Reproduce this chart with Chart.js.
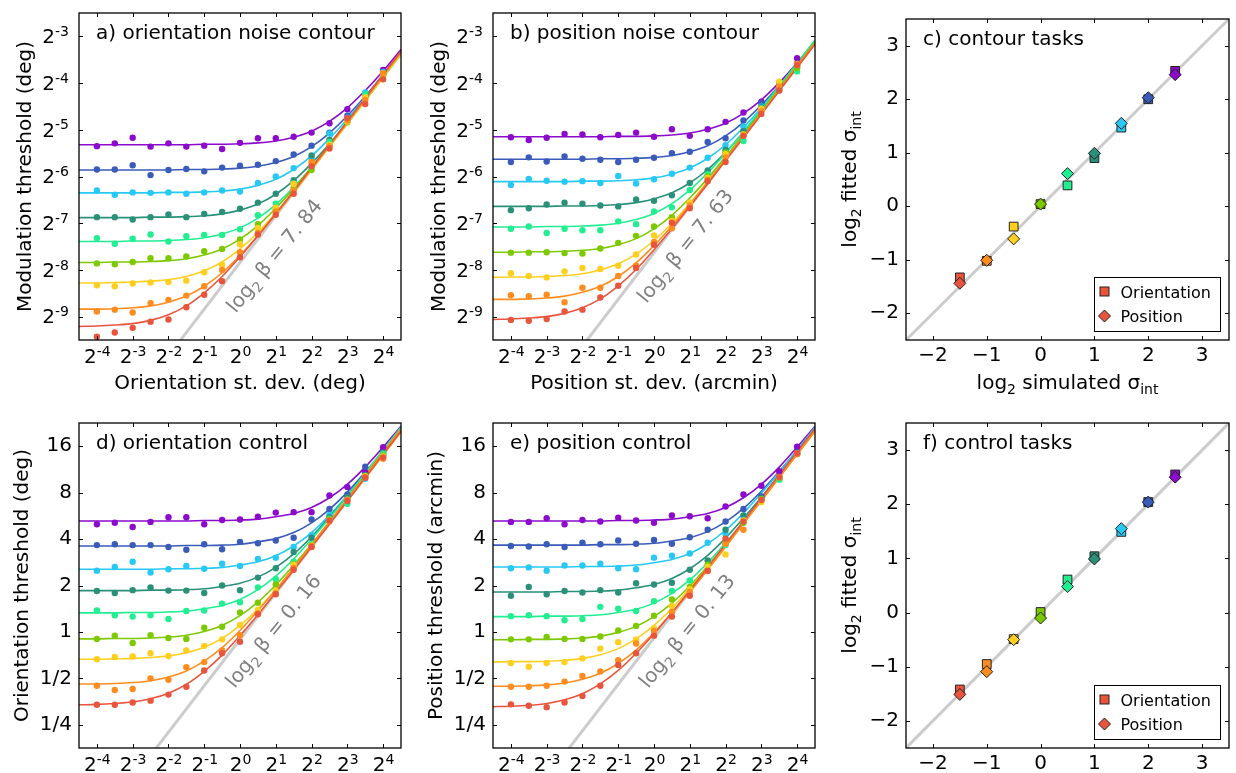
<!DOCTYPE html>
<html><head><meta charset="utf-8">
<script src="https://cdn.jsdelivr.net/npm/chart.js@4.4.1/dist/chart.umd.min.js"></script>
<style>
html,body{margin:0;padding:0;background:#fff;}
#wrap{position:relative;width:1236px;height:773px;overflow:hidden;background:#fff;}
canvas{position:absolute;}
</style></head><body><div id="wrap">
<canvas id="ca" width="412" height="400" style="left:0px;top:0px"></canvas>
<canvas id="cb" width="414" height="400" style="left:412px;top:0px"></canvas>
<canvas id="cc" width="410" height="400" style="left:826px;top:0px"></canvas>
<canvas id="cd" width="412" height="373" style="left:0px;top:400px"></canvas>
<canvas id="ce" width="414" height="373" style="left:412px;top:400px"></canvas>
<canvas id="cf" width="410" height="373" style="left:826px;top:400px"></canvas>
</div>
<script>
// ---------- data ----------
const sigmaSim = [-1.5, -1, -0.5, 0, 0.5, 1, 1.5, 2, 2.5];           // log2 simulated sigma_int (red -> purple)
const palette = ['#e8553c','#ff8c1e','#ffcf1f','#7dc900','#20ee90','#2b9079','#28c8f5','#3a5bb9','#8b0acb'];
const noiseX = [-4,-3.5,-3,-2.5,-2,-1.5,-1,-0.5,0,0.5,1,1.5,2,2.5,3,3.5,4];           // log2 external noise
const fitX = [-4.5,-4,-3.5,-3,-2.5,-2,-1.5,-1,-0.5,0,0.5,1,1.5,2,2.5,3,3.5,4,4.5];

const log2TickVals = [-4,-3,-2,-1,0,1,2,3,4];
const log2TickExp = ['-4','-3','-2','-1','0','1','2','3','4'];      // labels 2^n
const modTickVals = [-9,-8,-7,-6,-5,-4,-3];
const modTickExp = ['-9','-8','-7','-6','-5','-4','-3'];            // labels 2^n
const ctrlTickVals = [-2,-1,0,1,2,3,4];
const ctrlTickLabels = ['1/4','1/2','1','2','4','8','16'];
const sigmaTickVals = [-2,-1,0,1,2,3];
const sigmaTickLabels = ['−2','−1','0','1','2','3'];

// a) orientation noise contour : measured thresholds (log2)
const dotsA = [
 [-9.43,-9.34,-9.24,-9.11,-9.06,-8.80,-8.53,-8.24,-7.73,-7.24,-6.82,-6.37,-5.78,-5.40,-4.75,-4.45,-3.92],
 [-8.89,-8.85,-8.91,-8.71,-8.64,-8.55,-8.35,-8.00,-7.62,-7.21,-6.75,-6.30,-5.69,-5.35,-4.80,-4.36,-3.79],
 [-8.33,-8.35,-8.29,-8.27,-8.26,-8.23,-8.05,-7.89,-7.45,-7.10,-6.67,-6.16,-5.70,-5.32,-4.82,-4.30,-3.80],
 [-7.86,-7.88,-7.83,-7.75,-7.75,-7.71,-7.60,-7.55,-7.35,-7.02,-6.70,-6.25,-5.86,-5.34,-4.84,-4.32,-3.85],
 [-7.32,-7.44,-7.33,-7.24,-7.39,-7.28,-7.25,-7.25,-7.13,-6.83,-6.58,-6.15,-5.80,-5.26,-4.80,-4.24,-3.82],
 [-6.87,-6.87,-6.92,-6.87,-6.81,-6.87,-6.80,-6.76,-6.69,-6.56,-6.37,-6.08,-5.55,-5.22,-4.78,-4.28,-3.80],
 [-6.30,-6.39,-6.34,-6.35,-6.34,-6.37,-6.34,-6.30,-6.32,-6.14,-6.00,-5.82,-5.60,-5.08,-4.74,-4.20,-3.76],
 [-5.85,-5.85,-5.76,-5.97,-5.86,-5.84,-5.89,-5.81,-5.77,-5.75,-5.67,-5.53,-5.34,-5.06,-4.70,-4.27,-3.80],
 [-5.35,-5.29,-5.17,-5.36,-5.29,-5.36,-5.34,-5.41,-5.28,-5.18,-5.18,-5.15,-5.06,-4.86,-4.56,-4.22,-3.72]
];
const fitsA = [
 [-9.21,-9.20,-9.18,-9.15,-9.08,-8.96,-8.77,-8.49,-8.14,-7.72,-7.27,-6.79,-6.31,-5.81,-5.32,-4.82,-4.32,-3.82,-3.32],
 [-8.84,-8.84,-8.83,-8.81,-8.77,-8.69,-8.56,-8.35,-8.06,-7.69,-7.27,-6.81,-6.33,-5.84,-5.34,-4.85,-4.35,-3.85,-3.35],
 [-8.28,-8.28,-8.27,-8.26,-8.24,-8.21,-8.14,-8.02,-7.83,-7.55,-7.20,-6.78,-6.33,-5.85,-5.37,-4.87,-4.38,-3.88,-3.38],
 [-7.84,-7.84,-7.83,-7.83,-7.82,-7.80,-7.76,-7.68,-7.55,-7.34,-7.05,-6.68,-6.26,-5.80,-5.32,-4.83,-4.33,-3.84,-3.34],
 [-7.39,-7.39,-7.39,-7.38,-7.38,-7.37,-7.35,-7.31,-7.23,-7.10,-6.89,-6.60,-6.23,-5.81,-5.35,-4.87,-4.38,-3.88,-3.39],
 [-6.88,-6.88,-6.88,-6.88,-6.87,-6.87,-6.86,-6.84,-6.80,-6.72,-6.59,-6.38,-6.09,-5.72,-5.30,-4.84,-4.36,-3.87,-3.37],
 [-6.35,-6.35,-6.35,-6.35,-6.35,-6.34,-6.34,-6.33,-6.31,-6.27,-6.19,-6.06,-5.85,-5.56,-5.19,-4.77,-4.31,-3.83,-3.34],
 [-5.86,-5.86,-5.86,-5.86,-5.86,-5.86,-5.85,-5.85,-5.84,-5.82,-5.78,-5.70,-5.57,-5.36,-5.07,-4.70,-4.28,-3.82,-3.34],
 [-5.32,-5.32,-5.32,-5.32,-5.32,-5.32,-5.32,-5.31,-5.31,-5.30,-5.28,-5.24,-5.16,-5.03,-4.82,-4.53,-4.16,-3.74,-3.28]
];
const refA = {x: [-2, 4.5], y: [-9.84, -3.34]};

// b) position noise contour
const dotsB = [
 [-9.07,-9.09,-9.05,-8.89,-8.85,-8.59,-8.34,-7.96,-7.46,-6.99,-6.68,-6.10,-5.69,-5.13,-4.66,-4.16,-3.62],
 [-8.54,-8.56,-8.53,-8.69,-8.38,-8.38,-8.13,-7.91,-7.40,-7.11,-6.62,-6.07,-5.59,-5.12,-4.60,-4.07,-3.59],
 [-8.07,-8.13,-8.16,-8.03,-7.96,-7.98,-7.91,-7.67,-7.26,-6.95,-6.56,-6.03,-5.52,-5.10,-4.55,-3.97,-3.60],
 [-7.63,-7.63,-7.62,-7.64,-7.65,-7.54,-7.42,-7.27,-7.07,-6.87,-6.56,-6.00,-5.49,-5.10,-4.58,-4.12,-3.68],
 [-7.12,-7.07,-7.21,-7.12,-7.15,-7.15,-6.96,-7.02,-6.75,-6.66,-6.29,-5.95,-5.49,-5.24,-4.55,-4.16,-3.75],
 [-6.72,-6.68,-6.60,-6.56,-6.58,-6.62,-6.64,-6.49,-6.52,-6.40,-6.14,-5.87,-5.43,-5.03,-4.52,-4.00,-3.66],
 [-6.18,-6.05,-6.09,-6.11,-6.10,-6.14,-5.99,-6.15,-6.06,-5.94,-5.81,-5.60,-5.33,-4.93,-4.50,-4.10,-3.62],
 [-5.69,-5.59,-5.68,-5.57,-5.62,-5.64,-5.69,-5.64,-5.60,-5.50,-5.47,-5.26,-5.18,-4.80,-4.43,-4.08,-3.58],
 [-5.16,-5.22,-5.17,-5.09,-5.10,-5.16,-5.11,-5.06,-5.15,-4.99,-5.13,-4.99,-4.83,-4.63,-4.40,-4.02,-3.47]
];
const fitsB = [
 [-9.06,-9.05,-9.03,-9.00,-8.93,-8.81,-8.62,-8.34,-7.99,-7.57,-7.12,-6.64,-6.16,-5.66,-5.17,-4.67,-4.17,-3.67,-3.17],
 [-8.63,-8.63,-8.62,-8.60,-8.56,-8.48,-8.35,-8.14,-7.85,-7.48,-7.06,-6.60,-6.12,-5.63,-5.13,-4.64,-4.14,-3.64,-3.14],
 [-8.16,-8.15,-8.15,-8.14,-8.12,-8.08,-8.00,-7.87,-7.66,-7.37,-7.00,-6.58,-6.12,-5.64,-5.15,-4.65,-4.16,-3.66,-3.16],
 [-7.62,-7.62,-7.61,-7.61,-7.60,-7.58,-7.54,-7.46,-7.33,-7.12,-6.83,-6.46,-6.04,-5.58,-5.10,-4.61,-4.11,-3.62,-3.12],
 [-7.08,-7.08,-7.08,-7.07,-7.07,-7.06,-7.04,-7.00,-6.92,-6.79,-6.58,-6.29,-5.92,-5.50,-5.04,-4.56,-4.07,-3.57,-3.08],
 [-6.64,-6.64,-6.64,-6.64,-6.63,-6.63,-6.62,-6.60,-6.56,-6.48,-6.35,-6.14,-5.85,-5.48,-5.06,-4.60,-4.12,-3.63,-3.13],
 [-6.11,-6.11,-6.11,-6.11,-6.11,-6.10,-6.10,-6.09,-6.07,-6.03,-5.95,-5.82,-5.61,-5.32,-4.95,-4.53,-4.07,-3.59,-3.10],
 [-5.63,-5.63,-5.63,-5.63,-5.63,-5.63,-5.62,-5.62,-5.61,-5.59,-5.55,-5.47,-5.34,-5.13,-4.84,-4.47,-4.05,-3.59,-3.11],
 [-5.15,-5.15,-5.15,-5.15,-5.15,-5.15,-5.15,-5.14,-5.14,-5.13,-5.11,-5.07,-4.99,-4.86,-4.65,-4.36,-3.99,-3.57,-3.11]
];
const refB = {x: [-2, 4.5], y: [-9.63, -3.13]};

// d) orientation control
const dotsD = [
 [-1.57,-1.57,-1.52,-1.48,-1.35,-1.18,-0.83,-0.46,-0.21,0.38,0.81,1.34,1.83,2.40,2.82,3.32,3.76],
 [-1.16,-1.25,-1.23,-1.00,-1.03,-0.76,-0.65,-0.40,-0.07,0.40,0.83,1.38,1.85,2.38,2.84,3.33,3.73],
 [-0.59,-0.54,-0.53,-0.46,-0.52,-0.40,-0.30,-0.16,0.15,0.48,0.89,1.44,1.86,2.40,2.85,3.35,3.78],
 [-0.15,-0.08,-0.24,-0.07,-0.13,-0.15,0.09,0.11,0.42,0.63,1.02,1.46,1.87,2.42,2.84,3.36,3.80],
 [0.46,0.36,0.33,0.36,0.28,0.45,0.46,0.61,0.64,0.96,1.14,1.51,1.89,2.44,2.76,3.35,3.84],
 [0.88,0.84,0.90,0.96,0.89,0.89,0.84,1.00,0.90,1.17,1.37,1.72,2.03,2.47,2.90,3.38,3.86],
 [1.32,1.40,1.51,1.28,1.35,1.42,1.36,1.47,1.42,1.57,1.60,1.83,2.09,2.52,2.89,3.30,3.85],
 [1.87,1.89,1.87,1.87,1.83,1.77,1.89,1.78,1.94,1.91,1.97,2.03,2.42,2.65,2.96,3.56,3.81],
 [2.32,2.35,2.26,2.37,2.47,2.47,2.32,2.41,2.42,2.48,2.57,2.58,2.58,2.94,3.12,3.44,3.98]
];
const fitsD = [
 [-1.57,-1.56,-1.54,-1.51,-1.44,-1.32,-1.13,-0.85,-0.50,-0.08,0.37,0.85,1.33,1.83,2.32,2.82,3.32,3.82,4.32],
 [-1.12,-1.12,-1.11,-1.09,-1.05,-0.97,-0.84,-0.63,-0.34,0.03,0.46,0.91,1.39,1.88,2.38,2.87,3.37,3.87,4.37],
 [-0.59,-0.59,-0.58,-0.57,-0.55,-0.52,-0.45,-0.33,-0.14,0.14,0.49,0.91,1.36,1.84,2.32,2.82,3.31,3.81,4.31],
 [-0.15,-0.15,-0.14,-0.14,-0.13,-0.11,-0.07,0.01,0.14,0.35,0.64,1.01,1.44,1.89,2.37,2.86,3.36,3.85,4.35],
 [0.41,0.41,0.41,0.42,0.42,0.43,0.45,0.50,0.57,0.70,0.91,1.20,1.57,2.00,2.45,2.93,3.42,3.92,4.41],
 [0.89,0.89,0.89,0.89,0.90,0.90,0.91,0.93,0.98,1.05,1.18,1.39,1.68,2.05,2.48,2.93,3.41,3.90,4.40],
 [1.35,1.35,1.35,1.35,1.35,1.36,1.36,1.37,1.39,1.44,1.51,1.64,1.85,2.14,2.51,2.94,3.39,3.87,4.36],
 [1.85,1.85,1.85,1.85,1.85,1.85,1.86,1.86,1.87,1.89,1.94,2.01,2.14,2.35,2.64,3.01,3.44,3.89,4.37],
 [2.39,2.39,2.39,2.39,2.39,2.39,2.39,2.40,2.40,2.41,2.43,2.48,2.55,2.68,2.89,3.18,3.55,3.98,4.43]
];
const refD = {x: [-3, 4.5], y: [-3.16, 4.34]};

// e) position control
const dotsE = [
 [-1.56,-1.59,-1.62,-1.52,-1.38,-1.16,-0.71,-0.46,-0.08,0.33,0.78,1.32,2.01,2.38,2.84,3.34,3.85],
 [-1.18,-1.18,-1.16,-1.07,-0.95,-0.85,-0.61,-0.25,0.02,0.43,0.86,1.31,1.90,2.20,2.84,3.33,3.83],
 [-0.67,-0.75,-0.67,-0.65,-0.57,-0.36,-0.22,-0.17,0.08,0.56,0.92,1.40,1.67,2.40,2.80,3.34,3.85],
 [-0.16,-0.16,-0.11,-0.15,-0.15,-0.10,0.03,0.13,0.35,0.70,0.97,1.45,1.92,2.35,2.86,3.32,3.84],
 [0.34,0.36,0.34,0.25,0.28,0.54,0.50,0.45,0.66,0.88,1.11,1.42,1.87,2.40,2.86,3.28,3.83],
 [0.78,0.97,0.81,0.88,0.85,0.90,0.85,1.05,1.02,1.06,1.34,1.54,2.20,2.51,2.88,3.30,3.84],
 [1.37,1.39,1.32,1.43,1.43,1.47,1.37,1.35,1.60,1.64,1.69,1.92,2.11,2.49,2.83,3.30,3.84],
 [1.85,1.84,1.89,1.83,1.92,1.89,1.97,1.90,1.98,1.90,2.04,2.20,2.38,2.65,2.92,3.32,3.87],
 [2.37,2.37,2.45,2.32,2.41,2.38,2.46,2.40,2.35,2.51,2.49,2.45,2.70,2.96,3.15,3.46,3.99]
];
const fitsE = [
 [-1.61,-1.60,-1.58,-1.54,-1.46,-1.33,-1.12,-0.83,-0.46,-0.04,0.42,0.90,1.39,1.89,2.38,2.88,3.38,3.88,4.38],
 [-1.17,-1.17,-1.16,-1.14,-1.10,-1.02,-0.89,-0.68,-0.39,-0.02,0.41,0.86,1.34,1.83,2.33,2.82,3.32,3.82,4.32],
 [-0.65,-0.64,-0.64,-0.63,-0.61,-0.57,-0.49,-0.36,-0.15,0.14,0.51,0.94,1.39,1.87,2.36,2.86,3.35,3.85,4.35],
 [-0.17,-0.17,-0.16,-0.16,-0.15,-0.13,-0.09,-0.01,0.12,0.33,0.62,0.99,1.42,1.87,2.35,2.84,3.34,3.83,4.33],
 [0.33,0.33,0.33,0.34,0.34,0.35,0.37,0.42,0.49,0.62,0.83,1.12,1.49,1.92,2.37,2.85,3.34,3.84,4.33],
 [0.86,0.86,0.86,0.86,0.87,0.87,0.88,0.90,0.95,1.02,1.15,1.36,1.65,2.02,2.45,2.90,3.38,3.87,4.37],
 [1.40,1.40,1.40,1.40,1.40,1.41,1.41,1.42,1.44,1.49,1.56,1.69,1.90,2.19,2.56,2.99,3.44,3.92,4.41],
 [1.87,1.87,1.87,1.87,1.87,1.87,1.88,1.88,1.89,1.91,1.96,2.03,2.16,2.37,2.66,3.03,3.46,3.91,4.39],
 [2.39,2.39,2.39,2.39,2.39,2.39,2.39,2.40,2.40,2.41,2.43,2.48,2.55,2.68,2.89,3.18,3.55,3.98,4.43]
];
const refE = {x: [-3, 4.5], y: [-3.13, 4.37]};

// c) contour tasks / f) control tasks : log2 fitted sigma_int
const fittedOrientC = [-1.33,-1.02,-0.38,0.04,0.39,0.90,1.47,2.00,2.53];
const fittedPositionC = [-1.44,-1.01,-0.61,0.04,0.61,0.99,1.55,2.03,2.46];
const fittedOrientF = [-1.42,-0.95,-0.49,0.01,0.61,1.04,1.49,2.04,2.55];
const fittedPositionF = [-1.51,-1.09,-0.50,-0.10,0.48,0.99,1.55,2.04,2.50];
const identityLine = {x: [-2.5, 3.5], y: [-2.5, 3.5]};

// ---------- rendering ----------
const FONT = '"DejaVu Sans", sans-serif';
Chart.defaults.font.family = FONT;
Chart.defaults.font.size = 20;
Chart.defaults.color = '#000';

function drawRich(ctx, parts, x, y, size, align) {
  let w = 0;
  parts.forEach(([t, m]) => { ctx.font = (m ? size * 0.7 : size) + 'px ' + FONT; w += ctx.measureText(t).width; });
  let cx = align === 'center' ? x - w / 2 : (align === 'right' ? x - w : x);
  parts.forEach(([t, m]) => {
    const fs = m ? size * 0.7 : size;
    ctx.font = fs + 'px ' + FONT;
    const dy = m === 1 ? size * 0.25 : (m === 2 ? -size * 0.36 : 0);
    ctx.fillText(t, cx, y + dy);
    cx += ctx.measureText(t).width;
  });
}

function panelPlugin(info) {
  return {
    id: 'panel' + info.id,
    afterDatasetsDraw(chart) {
      const {ctx, chartArea: a, scales: {x, y}} = chart;
      ctx.save();
      ctx.strokeStyle = '#000';
      ctx.lineWidth = 1;
      const tl = 4;
      ctx.beginPath();
      info.xTicks.forEach(v => {
        const px = Math.round(x.getPixelForValue(v)) + 0.5;
        ctx.moveTo(px, a.bottom); ctx.lineTo(px, a.bottom - tl);
        ctx.moveTo(px, a.top); ctx.lineTo(px, a.top + tl);
      });
      info.yTicks.forEach(v => {
        const py = Math.round(y.getPixelForValue(v)) + 0.5;
        ctx.moveTo(a.left, py); ctx.lineTo(a.left + tl, py);
        ctx.moveTo(a.right, py); ctx.lineTo(a.right - tl, py);
      });
      ctx.stroke();
      ctx.lineWidth = 1.3;
      ctx.strokeRect(a.left, a.top, a.right - a.left, a.bottom - a.top);
      ctx.restore();
    },
    afterDraw(chart) {
      const {ctx, chartArea: a, scales: {x, y}} = chart;
      ctx.save();
      ctx.fillStyle = '#000';
      ctx.textBaseline = 'alphabetic';
      ctx.textAlign = 'left';
      // power-of-two tick labels placed through the scales
      if (info.xExp) info.xTicks.forEach((v, i) => {
        drawRich(ctx, [['2', 0], [info.xExp[i], 2]], x.getPixelForValue(v) + 0.5, a.bottom + 23, 20, 'center');
      });
      if (info.yExp) info.yTicks.forEach((v, i) => {
        drawRich(ctx, [['2', 0], [info.yExp[i], 2]], a.left - 10, y.getPixelForValue(v) + 6.8, 20, 'right');
      });
      // panel label
      drawRich(ctx, [[info.label, 0]], a.left + 17, a.top + 26, 20, 'left');
      // x title
      if (info.xTitle) drawRich(ctx, info.xTitle, (a.left + a.right) / 2, a.bottom + 49, 20, 'center');
      // y title
      if (info.yTitle) {
        ctx.save();
        ctx.translate(a.left - info.yTitleOff, (a.top + a.bottom) / 2);
        ctx.rotate(-Math.PI / 2);
        drawRich(ctx, info.yTitle, 0, 0, 20, 'center');
        ctx.restore();
      }
      // rotated annotation
      if (info.ann) {
        const px = x.getPixelForValue(info.ann.x), py = y.getPixelForValue(info.ann.y);
        ctx.save();
        ctx.fillStyle = '#808080';
        ctx.translate(px, py);
        ctx.rotate(-info.ann.angle * Math.PI / 180);
        drawRich(ctx, [['log', 0], ['2', 1], [' β = ' + info.ann.text, 0]], 0, 0, 20, 'left');
        ctx.restore();
      }
      // legend
      if (info.legend) {
        const bw = 126, bh = 54;
        const bx = Math.round(a.right - 9 - bw) + 0.5, by = Math.round(a.bottom - 9 - bh) + 0.5;
        ctx.fillStyle = '#fff';
        ctx.fillRect(bx, by, bw, bh);
        ctx.strokeStyle = '#000';
        ctx.lineWidth = 1;
        ctx.strokeRect(bx, by, bw, bh);
        const mx = bx + 10;
        const r1 = by + 14, r2 = by + 38.5;
        ctx.fillStyle = palette[0];
        ctx.fillRect(mx - 4.5, r1 - 4.5, 9, 9);
        ctx.strokeStyle = '#222';
        ctx.strokeRect(mx - 4.5, r1 - 4.5, 9, 9);
        ctx.beginPath();
        ctx.moveTo(mx - 6, r2); ctx.lineTo(mx, r2 - 6); ctx.lineTo(mx + 6, r2); ctx.lineTo(mx, r2 + 6); ctx.closePath();
        ctx.fill(); ctx.stroke();
        ctx.fillStyle = '#000';
        drawRich(ctx, [[info.legend[0], 0]], bx + 26, r1 + 6, 16, 'left');
        drawRich(ctx, [[info.legend[1], 0]], bx + 26, r2 + 6, 16, 'left');
      }
      ctx.restore();
    }
  };
}

function pts(xs, ys) { return xs.map((v, i) => ({x: v, y: ys[i]})); }

function thresholdDatasets(dots, fits, ref) {
  const ds = [];
  dots.forEach((ys, i) => ds.push({
    type: 'scatter', data: pts(noiseX, ys), backgroundColor: palette[i], borderWidth: 0,
    pointRadius: 3.2, pointHoverRadius: 3.2, order: 1, clip: 0
  }));
  fits.forEach((ys, i) => ds.push({
    type: 'line', data: pts(fitX, ys), borderColor: palette[i], borderWidth: 1.6, pointRadius: 0,
    cubicInterpolationMode: 'monotone', fill: false, order: 2, clip: 0
  }));
  ds.push({type: 'line', data: pts(ref.x, ref.y), borderColor: '#cccccc', borderWidth: 3, pointRadius: 0, fill: false, order: 3, clip: 0});
  return ds;
}

function sigmaDatasets(orient, pos) {
  return [
    {type: 'scatter', data: pts(sigmaSim, pos), pointStyle: 'rectRot', pointRadius: 6, pointHoverRadius: 6,
     backgroundColor: palette, borderColor: '#222', borderWidth: 1, order: 1, clip: 0},
    {type: 'scatter', data: pts(sigmaSim, orient), pointStyle: 'rect', pointRadius: 6.2, pointHoverRadius: 6.2,
     backgroundColor: palette, borderColor: '#222', borderWidth: 1, order: 2, clip: 0},
    {type: 'line', data: pts(identityLine.x, identityLine.y), borderColor: '#cccccc', borderWidth: 3, pointRadius: 0, fill: false, order: 3, clip: 0}
  ];
}

function axis(min, max, vals, labels, fitSize, horizontal, pad) {
  return {
    type: 'linear', min, max,
    afterBuildTicks: s => { s.ticks = vals.map(v => ({value: v})); },
    afterFit: s => { if (horizontal) s.height = fitSize; else s.width = fitSize; },
    grid: {display: false, drawTicks: false},
    border: {display: false},
    ticks: {display: !!labels, autoSkip: false, maxRotation: 0, minRotation: 0, padding: pad, color: '#000',
            font: {size: 20, family: FONT},
            callback: v => { const k = vals.indexOf(v); return (labels && k >= 0) ? labels[k] : ''; }}
  };
}

function makeChart(id, datasets, xAxis, yAxis, padding, info) {
  return new Chart(document.getElementById(id), {
    type: 'scatter',
    data: {datasets},
    options: {
      responsive: false, animation: false, devicePixelRatio: 1, events: [],
      layout: {padding, autoPadding: false},
      plugins: {legend: {display: false}, tooltip: {enabled: false}},
      scales: {x: xAxis, y: yAxis}
    },
    plugins: [panelPlugin(info)]
  });
}

const titleModY = [['Modulation threshold (deg)', 0]];
const titleSigY = [['log', 0], ['2', 1], [' fitted σ', 0], ['int', 1]];
const titleSigX = [['log', 0], ['2', 1], [' simulated σ', 0], ['int', 1]];

makeChart('ca', thresholdDatasets(dotsA, fitsA, refA),
  axis(-4.5, 4.5, log2TickVals, null, 60, true, 4),
  axis(-9.5, -2.5, modTickVals, null, 79, false, 10),
  {left: 0, right: 11, top: 13, bottom: 0},
  {id: 'a', label: 'a) orientation noise contour', xTicks: log2TickVals, yTicks: modTickVals,
   xExp: log2TickExp, yExp: modTickExp,
   xTitle: [['Orientation st. dev. (deg)', 0]], yTitle: titleModY, yTitleOff: 48,
   ann: {x: -0.12, y: -8.94, angle: 51, text: '7. 84'}});

makeChart('cb', thresholdDatasets(dotsB, fitsB, refB),
  axis(-4.5, 4.5, log2TickVals, null, 60, true, 4),
  axis(-9.5, -2.5, modTickVals, null, 81, false, 10),
  {left: 0, right: 11, top: 13, bottom: 0},
  {id: 'b', label: 'b) position noise contour', xTicks: log2TickVals, yTicks: modTickVals,
   xExp: log2TickExp, yExp: modTickExp,
   xTitle: [['Position st. dev. (arcmin)', 0]], yTitle: titleModY, yTitleOff: 48,
   ann: {x: -0.21, y: -8.73, angle: 51, text: '7. 63'}});

makeChart('cc', sigmaDatasets(fittedOrientC, fittedPositionC),
  axis(-2.5, 3.5, sigmaTickVals, sigmaTickLabels, 60, true, 4),
  axis(-2.5, 3.5, sigmaTickVals, sigmaTickLabels, 80, false, 7),
  {left: 0, right: 7, top: 13, bottom: 0},
  {id: 'c', label: 'c) contour tasks', xTicks: sigmaTickVals, yTicks: sigmaTickVals,
   xTitle: titleSigX, yTitle: titleSigY, yTitleOff: 50, legend: ['Orientation', 'Position']});

makeChart('cd', thresholdDatasets(dotsD, fitsD, refD),
  axis(-4.5, 4.5, log2TickVals, null, 25, true, 4),
  axis(-2.5, 4.5, ctrlTickVals, ctrlTickLabels, 79, false, 7),
  {left: 0, right: 11, top: 23, bottom: 0},
  {id: 'd', label: 'd) orientation control', xTicks: log2TickVals, yTicks: ctrlTickVals,
   xExp: log2TickExp,
   yTitle: [['Orientation threshold (deg)', 0]], yTitleOff: 51,
   ann: {x: -0.15, y: -1.23, angle: 51, text: '0. 16'}});

makeChart('ce', thresholdDatasets(dotsE, fitsE, refE),
  axis(-4.5, 4.5, log2TickVals, null, 25, true, 4),
  axis(-2.5, 4.5, ctrlTickVals, ctrlTickLabels, 81, false, 7),
  {left: 0, right: 11, top: 23, bottom: 0},
  {id: 'e', label: 'e) position control', xTicks: log2TickVals, yTicks: ctrlTickVals,
   xExp: log2TickExp,
   yTitle: [['Position threshold (arcmin)', 0]], yTitleOff: 51,
   ann: {x: -0.16, y: -1.23, angle: 51, text: '0. 13'}});

makeChart('cf', sigmaDatasets(fittedOrientF, fittedPositionF),
  axis(-2.5, 3.5, sigmaTickVals, sigmaTickLabels, 25, true, 4),
  axis(-2.5, 3.5, sigmaTickVals, sigmaTickLabels, 80, false, 7),
  {left: 0, right: 7, top: 23, bottom: 0},
  {id: 'f', label: 'f) control tasks', xTicks: sigmaTickVals, yTicks: sigmaTickVals,
   yTitle: titleSigY, yTitleOff: 50, legend: ['Orientation', 'Position']});
</script>
</body></html>
